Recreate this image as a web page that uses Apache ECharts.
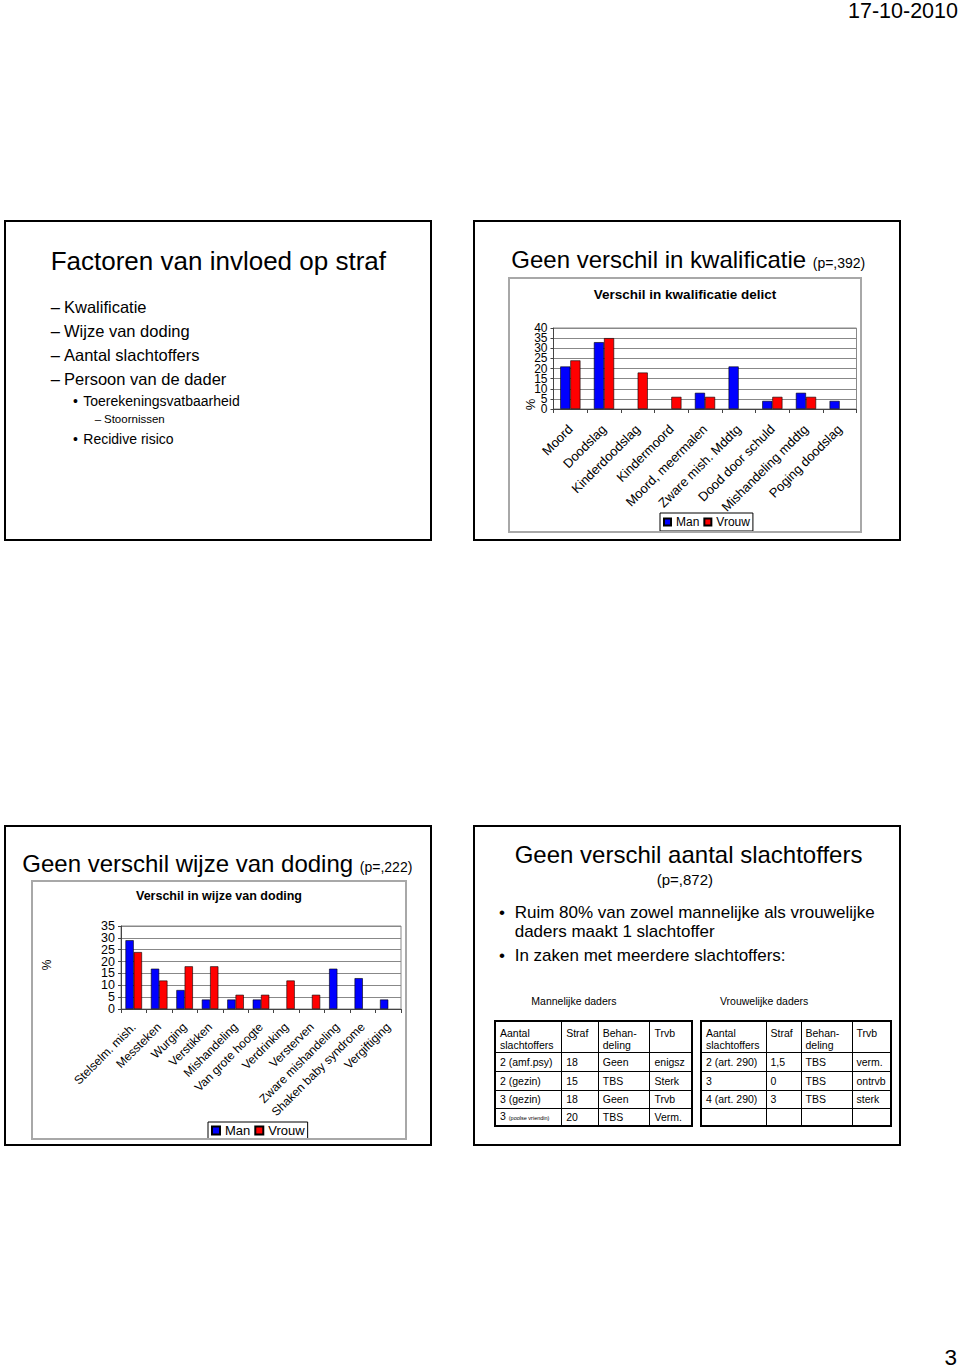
<!DOCTYPE html>
<html>
<head>
<meta charset="utf-8">
<script src="https://cdn.jsdelivr.net/npm/echarts@6/dist/echarts.min.js"></script>
<style>
  html, body { margin:0; padding:0; background:#fff; }
  body { position:relative; width:960px; height:1368px; overflow:hidden; font-family:"Liberation Sans", Arial, Helvetica, sans-serif; color:#000; }
  .abs { position:absolute; white-space:nowrap; line-height:1; }
  .slide { position:absolute; box-sizing:border-box; border:2px solid #000; background:#fff; }
  .cbox { position:absolute; box-sizing:border-box; border:2px solid #a8a8a8; pointer-events:none; }
  .chart { position:absolute; }
  table.t { position:absolute; border-collapse:collapse; table-layout:fixed; border:2px solid #000; font-size:10.5px; }
  table.t td { border:1px solid #000; padding:0 0 0 4px; line-height:12px; vertical-align:middle; white-space:nowrap; overflow:hidden; }
  table.t tr.h td { vertical-align:top; padding-top:5px; }
  .tiny { font-size:5.5px; }
</style>
</head>
<body>
<div class="abs" style="right:2px; top:1.3px; font-size:21.5px;">17-10-2010</div>
<div class="abs" style="right:3px; top:1346.5px; font-size:22.5px;">3</div>

<!-- Slide 1 -->
<div class="slide" style="left:4px; top:220px; width:428px; height:321px;"></div>
<div class="abs" style="left:50.7px; top:248px; font-size:26px;">Factoren van invloed op straf</div>
<div class="abs" style="left:50.7px; top:298.7px; font-size:16.5px;">–</div>
<div class="abs" style="left:64px; top:298.7px; font-size:16.5px;">Kwalificatie</div>
<div class="abs" style="left:50.7px; top:322.7px; font-size:16.5px;">–</div>
<div class="abs" style="left:64px; top:322.7px; font-size:16.5px;">Wijze van doding</div>
<div class="abs" style="left:50.7px; top:347px; font-size:16.5px;">–</div>
<div class="abs" style="left:64px; top:347px; font-size:16.5px;">Aantal slachtoffers</div>
<div class="abs" style="left:50.7px; top:371px; font-size:16.5px;">–</div>
<div class="abs" style="left:64px; top:371px; font-size:16.5px;">Persoon van de dader</div>
<div class="abs" style="left:73px; top:394.1px; font-size:14px;">•</div>
<div class="abs" style="left:83.3px; top:394.1px; font-size:14px;">Toerekeningsvatbaarheid</div>
<div class="abs" style="left:94.7px; top:413.6px; font-size:11.5px;">–</div>
<div class="abs" style="left:104px; top:413.6px; font-size:11.5px;">Stoornissen</div>
<div class="abs" style="left:73px; top:432.1px; font-size:14px;">•</div>
<div class="abs" style="left:83.3px; top:432.1px; font-size:14px;">Recidive risico</div>

<!-- Slide 2 -->
<div class="slide" style="left:473px; top:220px; width:428px; height:321px;"></div>
<div class="abs" style="left:511.3px; top:248px; font-size:24px;">Geen verschil in kwalificatie <span style="font-size:14px;">(p=,392)</span></div>
<div id="chart1" class="chart" style="left:507.5px; top:277px; width:354px; height:256px;"></div>
<div class="cbox" style="left:507.5px; top:277px; width:354px; height:256px;"></div>

<!-- Slide 3 -->
<div class="slide" style="left:4px; top:825px; width:428px; height:321px;"></div>
<div class="abs" style="left:22.3px; top:852.4px; font-size:24px;">Geen verschil wijze van doding <span style="font-size:14px;">(p=,222)</span></div>
<div id="chart2" class="chart" style="left:31px; top:880px; width:375.5px; height:260px;"></div>
<div class="cbox" style="left:31px; top:880px; width:375.5px; height:260px;"></div>

<!-- Slide 4 -->
<div class="slide" style="left:473px; top:825px; width:428px; height:321px;"></div>
<div class="abs" style="left:514.7px; top:843px; font-size:24px;">Geen verschil aantal slachtoffers</div>
<div class="abs" style="left:656.7px; top:871.6px; font-size:15px;">(p=,872)</div>
<div class="abs" style="left:499px; top:903.9px; font-size:17px;">•</div>
<div class="abs" style="left:514.7px; top:903.9px; font-size:17px;">Ruim 80% van zowel mannelijke als vrouwelijke</div>
<div class="abs" style="left:514.7px; top:923.3px; font-size:17px;">daders maakt 1 slachtoffer</div>
<div class="abs" style="left:499px; top:946.6px; font-size:17px;">•</div>
<div class="abs" style="left:514.7px; top:946.6px; font-size:17px;">In zaken met meerdere slachtoffers:</div>
<div class="abs" style="left:531.3px; top:996.1px; font-size:10.5px;">Mannelijke daders</div>
<div class="abs" style="left:720px; top:996.1px; font-size:10.5px;">Vrouwelijke daders</div>

<table class="t" style="left:494px; top:1020px; width:197px;">
  <colgroup><col style="width:66.7px"><col style="width:36.6px"><col style="width:51.7px"><col style="width:42px"></colgroup>
  <tr class="h" style="height:31px;"><td>Aantal<br>slachtoffers</td><td>Straf</td><td>Behan-<br>deling</td><td>Trvb</td></tr>
  <tr style="height:19px;"><td>2 (amf.psy)</td><td>18</td><td>Geen</td><td>enigsz</td></tr>
  <tr style="height:19px;"><td>2 (gezin)</td><td>15</td><td>TBS</td><td>Sterk</td></tr>
  <tr style="height:18px;"><td>3 (gezin)</td><td>18</td><td>Geen</td><td>Trvb</td></tr>
  <tr style="height:18px;"><td>3 <span class="tiny">(poolse vriendin)</span></td><td>20</td><td>TBS</td><td>Verm.</td></tr>
</table>

<table class="t" style="left:700px; top:1020px; width:190px;">
  <colgroup><col style="width:65px"><col style="width:35px"><col style="width:51px"><col style="width:39px"></colgroup>
  <tr class="h" style="height:31px;"><td>Aantal<br>slachtoffers</td><td>Straf</td><td>Behan-<br>deling</td><td>Trvb</td></tr>
  <tr style="height:19px;"><td>2 (art. 290)</td><td>1,5</td><td>TBS</td><td>verm.</td></tr>
  <tr style="height:19px;"><td>3</td><td>0</td><td>TBS</td><td>ontrvb</td></tr>
  <tr style="height:18px;"><td>4 (art. 290)</td><td>3</td><td>TBS</td><td>sterk</td></tr>
  <tr style="height:18px;"><td></td><td></td><td></td><td></td></tr>
</table>

<script>
// ---------- data ----------
const seriesNames = ['Man', 'Vrouw'];

const kwalCategories = ['Moord', 'Doodslag', 'Kinderdoodslag', 'Kindermoord', 'Moord, meermalen',
  'Zware mish. Mddtg', 'Dood door schuld', 'Mishandeling mddtg', 'Poging doodslag'];
const kwalMan   = [21, 33, null, null, 8, 21, 4, 8, 4];
const kwalVrouw = [24, 35, 18, 6, 6, null, 6, 6, null];
const kwalYMin = 0, kwalYMax = 40, kwalYStep = 5;

const wijzeCategories = ['Stelselm. mish.', 'Messteken', 'Wurging', 'Verstikken', 'Mishandeling',
  'Van grote hoogte', 'Verdrinking', 'Versterven', 'Zware mishandeling', 'Shaken baby syndrome', 'Vergiftiging'];
const wijzeMan   = [29, 17, 8, 4, 4, 4, null, null, 17, 13, 4];
const wijzeVrouw = [24, 12, 18, 18, 6, 6, 12, 6, null, null, null];
const wijzeYMin = 0, wijzeYMax = 35, wijzeYStep = 5;

// ---------- styling ----------
const FF = '"Liberation Sans", Arial, Helvetica, sans-serif';
const BLUE = '#0000ff', RED = '#ff0000';

function yAxisPair(cfg) {
  // Two overlaid value axes on the same scale: one labels the even ticks, the other the odd ones,
  // so that ECharts does not drop any of the tightly packed tick labels.
  const base = (parity, visibleLine) => ({
    type: 'value', min: cfg.yMin, max: cfg.yMax, interval: cfg.yStep, position: 'left', offset: 0,
    axisLine: { show: visibleLine, lineStyle: { color: '#444', width: 1 } },
    axisTick: { show: visibleLine, length: 3, lineStyle: { color: '#444' } },
    axisLabel: {
      fontSize: cfg.ySize, margin: 6, color: '#000', fontFamily: FF,
      formatter: (v) => (Math.round((v - cfg.yMin) / cfg.yStep) % 2 === parity ? String(v) : '')
    },
    splitLine: { show: visibleLine, lineStyle: { color: '#888', width: 1 } }
  });
  return [base(0, true), base(1, false)];
}

function makeOption(cfg) {
  return {
    animation: false,
    backgroundColor: 'transparent',
    title: {
      text: cfg.title, left: 'center', top: cfg.titleTop, padding: 0,
      textStyle: { fontSize: cfg.titleSize, fontWeight: 'bold', color: '#000', fontFamily: FF }
    },
    legend: {
      data: seriesNames, left: cfg.legendLeft, top: cfg.legendTop,
      padding: cfg.legendPad, itemWidth: cfg.legendIcon, itemHeight: cfg.legendIcon, itemGap: 4,
      borderColor: '#000', borderWidth: 1, icon: 'rect',
      textStyle: { fontSize: cfg.legendSize, color: '#000', fontFamily: FF }
    },
    grid: {
      left: cfg.grid.left, top: cfg.grid.top, width: cfg.grid.width, height: cfg.grid.height,
      show: true, borderColor: '#888', borderWidth: 1, outerBoundsMode: 'none'
    },
    xAxis: {
      type: 'category', data: cfg.categories, boundaryGap: true,
      axisLine: { show: true, lineStyle: { color: '#444', width: 1 } },
      axisTick: { show: true, length: 4, lineStyle: { color: '#444' } },
      axisLabel: { rotate: 45, interval: 0, margin: cfg.xMargin, fontSize: cfg.xSize, color: '#000', fontFamily: FF },
      splitLine: { show: false }
    },
    yAxis: yAxisPair(cfg),
    series: [
      { name: seriesNames[0], type: 'bar', yAxisIndex: 0, data: cfg.man, barGap: '0%', barCategoryGap: cfg.catGap,
        itemStyle: { color: BLUE, borderColor: '#000', borderWidth: 0.6 } },
      { name: seriesNames[1], type: 'bar', yAxisIndex: 0, data: cfg.vrouw, barGap: '0%', barCategoryGap: cfg.catGap,
        itemStyle: { color: RED, borderColor: '#000', borderWidth: 0.6 } }
    ],
    graphic: [{
      type: 'text', x: cfg.pct[0], y: cfg.pct[1], rotation: Math.PI / 2,
      style: { text: '%', fontSize: cfg.pctSize, fontFamily: FF, fill: '#000',
               align: 'center', verticalAlign: 'middle', textAlign: 'center', textVerticalAlign: 'middle' }
    }]
  };
}

const c1 = echarts.init(document.getElementById('chart1'), null, { renderer: 'svg' });
c1.setOption(makeOption({
  title: 'Verschil in kwalificatie delict', titleTop: 10, titleSize: 13.5,
  legendLeft: 152, legendTop: 236, legendPad: [3, 3, 3, 3], legendIcon: 7, legendSize: 12,
  grid: { left: 45.5, top: 51, width: 303, height: 81 },
  categories: kwalCategories, xMargin: 18, xSize: 13,
  yMin: kwalYMin, yMax: kwalYMax, yStep: kwalYStep, ySize: 12,
  man: kwalMan, vrouw: kwalVrouw, catGap: '40%',
  pct: [22.5, 127.5], pctSize: 13
}));

const c2 = echarts.init(document.getElementById('chart2'), null, { renderer: 'svg' });
c2.setOption(makeOption({
  title: 'Verschil in wijze van doding', titleTop: 9, titleSize: 12.5,
  legendLeft: 177, legendTop: 242, legendPad: [2, 3, 2, 3], legendIcon: 8, legendSize: 13,
  grid: { left: 90, top: 46, width: 280, height: 83 },
  categories: wijzeCategories, xMargin: 16, xSize: 12,
  yMin: wijzeYMin, yMax: wijzeYMax, yStep: wijzeYStep, ySize: 12.5,
  man: wijzeMan, vrouw: wijzeVrouw, catGap: '35%',
  pct: [15.5, 85], pctSize: 12
}));
</script>
</body>
</html>
